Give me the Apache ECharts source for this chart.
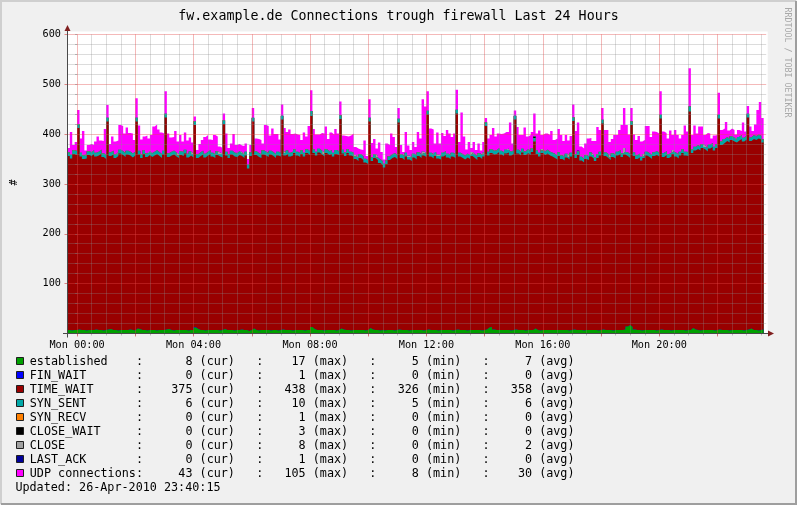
<!DOCTYPE html>
<html><head><meta charset="utf-8">
<script src="https://cdn.jsdelivr.net/npm/echarts@6/dist/echarts.min.js"></script>
<style>html,body{margin:0;padding:0;background:#f0f0f0}#c{width:797px;height:505px}</style>
</head><body><div id="c"></div>
<script>
// ---- time base: 5-minute buckets, minutes relative to Mon 00:00 ----
const startMinute = -20;
const stepMinutes = 5;

// ---- series values (grouped per hour: Sun 23:40-23:55, Mon 00..22, Mon 23:00-23:30) ----
const established = [
 [7,6,7,7],
 [8,7,7,6,7,7,7,8,7,7,6,7],[8,9,7,7,6,7,7,7,7,8,7,6],[10,9,7,7,6,7,7,7,6,7,7,7],[8,9,7,6,7,7,7,7,7,6,7,7],
 [12,9,7,7,6,7,7,7,7,7,6,7],[9,7,7,7,6,7,7,8,7,7,5,7],[10,7,6,7,7,7,7,6,7,7,6,7],[8,7,7,7,6,7,7,7,7,6,7,7],
 [13,9,7,7,7,6,7,7,7,7,6,7],[10,8,7,7,6,7,7,7,7,7,6,7],[11,8,7,7,6,7,6,7,7,7,6,7],[8,7,7,7,6,7,7,7,7,7,6,7],
 [8,7,7,7,6,7,7,7,7,7,6,7],[8,7,7,7,6,7,7,7,7,7,6,7],[8,12,13,8,7,7,7,7,7,7,6,7],[8,7,7,7,6,7,7,7,10,7,6,7],
 [7,7,7,7,7,7,7,7,7,7,6,7],[8,7,7,7,6,7,7,7,7,7,6,7],[8,7,7,7,6,7,7,7,7,8,14,17],[13,8,7,7,6,7,7,7,7,7,6,7],
 [8,7,7,7,6,7,7,7,7,7,6,7],[7,11,8,7,6,7,7,7,7,7,6,7],[8,7,7,7,6,7,7,7,7,7,6,7],
 [8,10,7,7,6,7,8]
].flat();

const finWait = [
 [0,0,0,0],
 [0,0,0,0,0,0,0,0,0,0,0,0],[0,0,0,0,0,0,0,0,0,0,0,0],[0,0,0,0,0,0,0,0,0,0,0,0],[0,0,0,0,0,0,0,0,0,0,0,0],
 [1,0,0,0,0,0,0,0,0,0,0,0],[0,0,0,0,0,0,0,0,0,0,0,0],[0,0,0,0,0,0,0,0,0,0,0,0],[0,0,0,0,0,0,0,0,0,0,0,0],
 [0,0,0,0,0,0,0,0,0,0,0,0],[0,0,0,0,0,0,0,0,0,0,0,0],[0,0,0,0,0,0,0,0,0,0,0,0],[0,0,0,0,0,0,0,0,0,0,0,0],
 [0,0,0,0,0,0,0,0,0,0,0,0],[0,0,0,0,0,0,0,0,0,0,0,0],[0,0,0,0,0,0,0,0,0,0,0,0],[0,0,0,0,0,0,0,0,0,0,0,0],
 [0,0,0,0,0,0,0,0,0,0,0,0],[0,0,0,0,0,0,0,0,0,0,0,0],[0,0,0,0,0,0,0,0,0,0,0,0],[0,0,0,0,0,0,0,0,0,0,0,0],
 [0,0,0,0,0,0,0,0,0,0,0,0],[0,0,0,0,0,0,0,0,0,0,0,0],[0,0,0,0,0,0,0,0,0,0,0,0],
 [0,0,0,0,0,0,0]
].flat();

const timeWait = [
 [349,345,353,351],
 [404,348,343,345,351,349,353,347,350,354,348,343],[417,347,352,345,350,354,351,347,352,349,346,351],
 [415,350,345,353,348,351,347,350,354,349,345,352],[425,345,350,353,348,345,351,349,354,347,350,346],
 [405,343,349,352,347,350,353,348,345,351,349,346],[411,350,345,352,349,347,351,348,345,350,326,349],
 [415,351,348,345,352,350,347,353,349,345,351,348],[421,350,353,348,351,355,350,347,353,349,355,351],
 [423,353,350,356,352,349,355,351,353,348,354,351],[420,353,349,355,351,348,343,339,345,341,337,333],
 [414,338,345,341,336,331,327,333,341,345,348,343],[415,345,341,348,343,339,346,342,349,345,351,347],
 [431,348,344,349,345,342,348,351,346,343,349,345],[433,348,345,342,347,343,349,345,341,347,344,348],
 [408,345,349,351,353,357,352,349,354,356,351,353],[421,354,350,356,352,355,351,357,375,353,349,355],
 [351,354,350,348,345,342,349,343,340,346,343,348],[418,345,351,340,337,343,341,348,344,339,346,350],
 [413,349,345,341,348,344,350,353,347,351,342,335],[405,348,343,346,341,345,350,347,343,349,352,348],
 [423,347,351,345,349,353,348,344,350,355,351,349],[438,351,359,363,361,365,362,358,364,367,361,365],
 [423,371,375,379,377,381,378,376,380,383,379,382],
 [425,376,383,381,385,382,375]
].flat();

const synSent = [
 [7,7,7,8],
 [7,7,7,5,7,7,7,7,7,7,7,7],[7,7,7,7,5,7,7,7,7,7,8,7],[7,7,7,7,7,5,7,7,7,7,7,7],[7,7,7,7,7,5,7,7,7,7,8,7],
 [7,7,7,7,7,7,7,7,7,7,5,7],[7,7,7,7,7,7,7,5,7,7,7,7],[7,7,7,7,8,7,7,7,7,7,7,7],[7,5,7,7,7,7,7,7,7,7,7,7],
 [10,7,7,7,7,5,7,7,7,7,8,7],[7,7,7,7,7,7,5,7,7,7,7,7],[7,7,7,5,7,7,7,7,7,7,7,8],[7,7,7,7,5,7,7,7,7,7,5,7],
 [7,7,7,7,5,7,7,7,7,7,7,7],[7,7,7,7,7,7,5,7,7,7,8,7],[7,7,7,7,7,7,7,7,7,5,7,7],[7,7,7,7,7,7,7,7,7,7,7,5],
 [7,7,7,7,8,7,7,7,7,7,5,7],[7,7,7,7,7,7,7,8,7,7,7,7],[7,7,7,5,7,7,7,7,7,5,7,7],[7,7,7,7,7,5,7,7,7,7,7,7],
 [7,8,7,7,7,5,7,7,7,7,7,7],[10,7,7,7,7,7,5,7,7,7,7,7],[7,7,8,7,7,7,7,5,7,7,7,7],
 [7,7,7,7,7,7,6]
].flat();

const synRecv = [
 [0,0,0,0],
 [0,0,0,0,0,0,0,0,0,0,0,0],[0,0,0,0,0,0,0,0,0,0,0,0],[0,0,0,0,0,0,0,0,0,0,0,0],[0,0,0,0,0,0,0,0,0,0,0,0],
 [0,0,0,0,0,0,0,0,0,0,0,0],[0,0,0,0,0,0,0,0,0,0,0,0],[0,0,0,0,0,0,0,0,0,0,0,0],[0,0,0,0,0,0,0,0,0,0,0,0],
 [0,0,0,0,0,0,0,0,0,0,0,0],[0,0,0,0,0,0,0,0,0,0,0,0],[0,0,0,0,0,0,0,0,0,0,0,0],[0,0,0,0,0,0,0,0,0,0,0,0],
 [0,0,1,0,0,0,0,0,0,0,0,0],[0,0,0,0,0,0,0,0,0,0,0,0],[0,0,0,0,0,0,0,0,0,0,0,0],[0,0,0,0,0,0,0,0,0,0,0,0],
 [0,0,0,0,0,0,0,0,0,0,0,0],[0,0,0,0,0,0,0,0,0,0,0,0],[0,0,0,0,0,0,0,0,0,0,0,0],[0,0,0,0,0,0,0,0,0,0,0,0],
 [0,0,0,0,0,0,0,0,0,0,0,0],[0,0,0,0,0,0,0,0,0,0,0,0],[0,0,0,0,0,0,0,0,0,0,0,0],
 [0,0,0,0,0,0,0]
].flat();

const closeWait = [
 [0,0,0,0],
 [0,0,0,0,0,0,0,0,0,0,0,0],[0,0,0,0,0,0,0,0,0,0,0,0],[0,0,0,0,0,0,0,0,0,0,0,0],[0,0,0,0,0,0,0,0,0,0,0,0],
 [0,0,0,0,0,0,0,0,0,0,0,0],[0,0,0,0,0,0,0,0,0,0,0,0],[0,0,0,0,0,0,0,0,0,0,0,0],[0,0,0,0,0,0,0,0,0,0,0,0],
 [0,0,0,0,0,0,0,0,0,0,0,0],[0,0,0,0,0,0,0,0,0,0,0,0],[0,0,0,0,0,0,0,0,0,0,0,0],[0,0,0,0,0,0,0,0,0,0,0,0],
 [0,0,0,0,0,0,0,0,0,0,0,0],[0,0,0,0,0,0,0,0,0,0,0,0],[0,0,0,0,0,0,0,0,0,0,0,0],[0,0,0,0,0,0,0,0,3,0,0,0],
 [0,0,0,0,0,0,0,0,0,0,0,0],[0,0,0,0,0,0,0,0,0,0,0,0],[0,0,0,0,0,0,0,0,0,0,0,0],[0,0,0,0,0,0,0,0,0,0,0,0],
 [0,0,0,0,0,0,0,0,0,0,0,0],[0,0,0,0,0,0,0,0,0,0,0,0],[0,0,0,0,0,0,0,0,0,0,0,0],
 [0,0,0,0,0,0,0]
].flat();

const closeState = [
 [1,1,1,0],
 [1,1,1,3,1,1,1,1,1,1,1,1],[1,1,1,1,3,1,1,1,1,1,0,1],[1,1,1,1,1,3,1,1,1,1,1,1],[1,1,1,1,1,3,1,1,1,1,0,1],
 [1,1,1,1,1,1,1,1,1,1,3,1],[1,1,1,1,1,1,1,3,1,1,1,1],[1,1,1,1,0,1,1,1,1,1,1,1],[1,3,1,1,1,1,1,1,1,1,1,1],
 [0,1,1,1,1,3,1,1,1,1,0,1],[1,1,1,1,1,1,3,1,1,1,1,1],[1,1,1,3,1,1,1,1,1,1,1,0],[1,1,1,1,3,1,1,1,1,1,3,1],
 [1,1,1,1,3,1,1,1,1,1,1,1],[1,1,1,1,1,1,3,1,1,1,0,1],[1,1,1,1,1,1,1,1,1,3,1,1],[1,1,1,1,1,1,1,1,1,1,1,3],
 [1,1,1,1,0,1,1,1,1,1,3,1],[1,1,1,1,1,1,1,0,1,1,1,1],[1,1,1,3,1,1,1,1,1,8,1,1],[1,1,1,1,1,3,1,1,1,1,1,1],
 [1,0,1,1,1,3,1,1,1,1,1,1],[0,1,1,1,1,1,3,1,1,1,1,1],[1,1,0,1,1,1,1,3,1,1,1,1],
 [1,1,1,1,1,1,0]
].flat();

const lastAck = [
 [0,0,0,0],
 [0,0,0,0,0,0,0,0,0,0,0,0],[0,0,0,0,0,0,0,0,0,0,0,0],[0,0,0,0,0,0,0,0,0,0,0,0],[0,0,0,0,0,0,0,0,0,0,0,0],
 [0,0,0,0,0,0,0,0,0,0,0,0],[0,0,0,0,0,0,0,0,0,0,0,0],[0,0,0,0,0,0,0,0,0,0,0,0],[0,0,0,0,0,0,0,0,0,0,0,0],
 [0,0,0,0,0,0,0,0,0,0,0,0],[0,0,0,0,0,0,0,0,0,0,0,0],[0,0,0,0,0,0,0,0,0,0,0,0],[0,0,0,0,0,0,0,0,0,0,0,0],
 [0,0,0,0,0,0,0,0,0,0,0,0],[0,0,0,0,0,0,0,0,0,0,0,0],[0,0,0,0,0,0,0,0,0,0,0,0],[0,0,0,0,0,0,0,0,0,0,0,0],
 [0,0,0,0,0,0,0,0,0,0,0,0],[0,0,1,0,0,0,0,0,0,0,0,0],[0,0,0,0,0,0,0,0,0,0,0,0],[0,0,0,0,0,0,0,0,0,0,0,0],
 [0,0,0,0,0,0,0,0,0,0,0,0],[0,0,0,0,0,0,0,0,0,0,0,0],[0,0,0,0,0,0,0,0,0,0,0,0],
 [0,0,0,0,0,0,0]
].flat();

const udp = [
 [8,45,10,18],
 [28,28,48,8,12,16,10,22,30,18,24,52],[25,16,28,25,23,49,50,39,46,37,40,23],[39,50,29,27,35,25,36,50,51,45,43,34],
 [45,39,28,27,43,25,32,21,34,26,28,22],[9,8,16,21,33,33,21,25,38,29,12,11],[13,36,12,14,37,16,14,13,16,16,11,14],
 [19,25,28,28,14,53,54,30,47,40,35,26],[22,47,36,46,35,31,34,36,20,40,25,50],[42,40,34,28,35,38,45,24,35,36,42,35],
 [27,28,32,25,32,38,16,17,9,12,36,8],[37,28,30,15,33,18,8,33,22,41,32,16],[21,18,8,41,20,14,23,17,40,31,105,93],
 [39,48,49,17,44,24,39,30,47,43,31,41],[40,21,83,38,8,26,8,24,12,19,9,21],[8,26,28,45,27,29,33,37,35,33,58,13],
 [10,45,33,27,47,25,32,32,45,33,44,28],[35,32,33,43,28,34,46,40,31,37,30,33],[25,46,56,20,20,23,35,29,27,32,54,43],
 [23,44,48,28,28,39,33,40,56,80,54,39],[26,35,30,35,30,28,51,54,36,41,38,38],[47,43,36,31,44,30,45,39,26,28,52,41],
 [77,28,42,23,40,35,21,29,22,9,22,18],[44,22,21,30,16,15,15,8,13,8,30,8],
 [15,21,8,23,49,67,43]
].flat();

// ---- legend names, colours, statistics ----
const legendNames = ['established','FIN_WAIT','TIME_WAIT','SYN_SENT','SYN_RECV','CLOSE_WAIT','CLOSE','LAST_ACK','UDP connections'];
const legendColors = ['#00A000','#0000FF','#990000','#00A8A8','#FF8000','#000000','#A0A0A0','#000099','#FF00FF'];
const statCur = [8,0,375,6,0,0,0,0,43];
const statMax = [17,1,438,10,1,3,8,1,105];
const statMin = [5,0,326,5,0,0,0,0,8];
const statAvg = [7,0,358,6,0,0,2,0,30];
const updatedText = 'Updated: 26-Apr-2010 23:40:15';
const titleText = 'fw.example.de Connections trough firewall Last 24 Hours';
const xTickLabels = ['Mon 00:00','Mon 04:00','Mon 08:00','Mon 12:00','Mon 16:00','Mon 20:00'];
const yTickLabels = ['100','200','300','400','500','600'];

const seriesValues = [established, finWait, timeWait, synSent, synRecv, closeWait, closeState, lastAck, udp];

// ---- layout ----
const FONT = 'DejaVu Sans Mono';
const plotLeft = 67.5, plotRight = 766.2, plotTop = 34.3, plotBottom = 333.5;
const axisMin = -19.75, axisMax = 1420.25;
const pxPerMin = (plotRight - plotLeft) / (axisMax - axisMin);
const gridLastMin = 1410, majorLastMin = 1320;
const MINOR = 'rgba(140,140,140,0.30)';
const MAJOR = 'rgba(225,70,70,0.38)';
const MINOR_TICK = 'rgba(120,120,120,0.45)';
const MAJOR_TICK = 'rgba(210,60,60,0.6)';

const nBuckets = timeWait.length;
const boundaries = [];
for (let i = 0; i <= nBuckets; i++) boundaries.push(String(startMinute + stepMinutes * i));
const dataLeft = plotLeft + (startMinute - axisMin) * pxPerMin;
const dataWidth = nBuckets * stepMinutes * pxPerMin;
const zeroLeft = plotLeft + (0 - axisMin) * pxPerMin;

// stacked tops (each layer drawn from 0 up to its cumulative top; upper layers painted first)
const stackedTops = [];
let running = seriesValues[0].map(() => 0);
seriesValues.forEach(vals => { running = running.map((r, i) => r + vals[i]); stackedTops.push(running); });

const chart = echarts.init(document.getElementById('c'), null, {renderer: 'canvas', width: 797, height: 505});

const series = stackedTops.map((tops, k) => {
  const data = tops.slice();
  data.push(tops[tops.length - 1]);
  return {
    name: legendNames[k], type: 'line', step: 'end',
    xAxisIndex: 0, yAxisIndex: 1, symbol: 'none', showSymbol: false,
    lineStyle: {opacity: 0, width: 0}, areaStyle: {color: legendColors[k], opacity: 1, origin: 'start'},
    data: data, silent: true, z: 2 + (8 - k) * 0.1
  };
}).reverse();

const graphics = [];
graphics.push({type: 'rect', shape: {x: 0, y: 0, width: 797, height: 505}, style: {fill: '#F0F0F0'}, z: -10, silent: true});
graphics.push({type: 'polyline', shape: {points: [[1, 504], [1, 1], [796, 1]]}, style: {stroke: '#CFCFCF', lineWidth: 2, fill: null}, z: -9, silent: true});
graphics.push({type: 'polyline', shape: {points: [[1, 504], [796, 504], [796, 1]]}, style: {stroke: '#9E9E9E', lineWidth: 2, fill: null}, z: -9, silent: true});
graphics.push({type: 'rect', shape: {x: plotLeft, y: 31.5, width: plotRight - plotLeft + 1.5, height: plotBottom - 31.5}, style: {fill: '#FFFFFF'}, z: -8, silent: true});
graphics.push({type: 'text', x: 398.5, y: 16.5, style: {text: titleText, font: '13.3px "' + FONT + '"', fill: '#000', align: 'center', verticalAlign: 'middle'}, z: 50, silent: true});
graphics.push({type: 'text', x: 787, y: 62.5, rotation: -Math.PI / 2, style: {text: 'RRDTOOL / TOBI OETIKER', font: '8.3px "' + FONT + '"', fill: '#A8A8A8', align: 'center', verticalAlign: 'middle'}, z: 50, silent: true});
graphics.push({type: 'text', x: 14, y: 182.5, rotation: Math.PI / 2, style: {text: '#', font: '10.2px "' + FONT + '"', fill: '#000', align: 'center', verticalAlign: 'middle'}, z: 50, silent: true});
graphics.push({type: 'line', shape: {x1: 67.5, y1: 337.5, x2: 67.5, y2: 29}, style: {stroke: '#4A4A4A', lineWidth: 1}, z: 60, silent: true});
graphics.push({type: 'line', shape: {x1: 63, y1: 333.5, x2: 769, y2: 333.5}, style: {stroke: '#4A4A4A', lineWidth: 1}, z: 60, silent: true});
graphics.push({type: 'polygon', shape: {points: [[67.5, 25], [64.5, 31], [70.5, 31]]}, style: {fill: '#801F1F'}, z: 61, silent: true});
graphics.push({type: 'polygon', shape: {points: [[774, 333.5], [768, 330.5], [768, 336.5]]}, style: {fill: '#801F1F'}, z: 61, silent: true});
const rowY0 = 361.5, rowStep = 14;
const LEGEND_FONT = '11.75px "' + FONT + '"';
legendNames.forEach((name, k) => {
  const y = rowY0 + k * rowStep;
  graphics.push({type: 'rect', shape: {x: 16.5, y: y - 4, width: 7, height: 7}, style: {fill: legendColors[k], stroke: '#1F1F1F', lineWidth: 1}, z: 50, silent: true});
  const line = name.padEnd(15) + ':' + String(statCur[k]).padStart(7) + ' (cur)' +
    '   :' + String(statMax[k]).padStart(6) + ' (max)' +
    '   :' + String(statMin[k]).padStart(6) + ' (min)' +
    '   :' + String(statAvg[k]).padStart(6) + ' (avg)';
  graphics.push({type: 'text', x: 29.8, y: y, style: {text: line, font: LEGEND_FONT, fill: '#000', align: 'left', verticalAlign: 'middle'}, z: 50, silent: true});
});
graphics.push({type: 'text', x: 15.4, y: rowY0 + 9 * rowStep, style: {text: updatedText, font: LEGEND_FONT, fill: '#000', align: 'left', verticalAlign: 'middle'}, z: 50, silent: true});

const option = {
  animation: false,
  backgroundColor: '#F0F0F0',
  grid: [
    {left: dataLeft, top: plotTop, width: dataWidth, height: plotBottom - plotTop, show: false},
    {left: zeroLeft, top: plotTop, width: gridLastMin * pxPerMin, height: plotBottom - plotTop, show: false},
    {left: plotLeft, top: plotTop, width: plotRight - plotLeft, height: plotBottom - plotTop, show: false},
    {left: zeroLeft, top: plotTop, width: majorLastMin * pxPerMin, height: plotBottom - plotTop, show: false}
  ],
  xAxis: [
    {type: 'category', gridIndex: 0, data: boundaries, boundaryGap: false, show: false},
    {type: 'value', gridIndex: 1, min: 0, max: gridLastMin, interval: 30, position: 'bottom', z: 10,
      axisLine: {show: false},
      axisTick: {show: true, length: 2, lineStyle: {color: MINOR_TICK}},
      axisLabel: {show: true, margin: 6.5, fontFamily: FONT, fontSize: 10.2, color: '#000',
        formatter: v => (v % 240 === 0 ? xTickLabels[v / 240] : '')},
      splitLine: {show: true, lineStyle: {width: 1, color: [MAJOR, MINOR, MINOR, MINOR]}}
    },
    {type: 'value', gridIndex: 2, min: axisMin, max: axisMax, show: false},
    {type: 'value', gridIndex: 3, min: 0, max: majorLastMin, interval: 120, position: 'bottom', z: 11,
      axisLine: {show: false}, axisLabel: {show: false}, splitLine: {show: false},
      axisTick: {show: true, length: 3, lineStyle: {color: MAJOR_TICK}}}
  ],
  yAxis: [
    {type: 'value', gridIndex: 2, min: 0, max: 600, interval: 20, position: 'left', z: 10,
      axisLine: {show: false},
      axisTick: {show: true, length: 2, lineStyle: {color: MINOR_TICK}},
      axisLabel: {show: true, margin: 6.5, fontFamily: FONT, fontSize: 10.2, color: '#000',
        formatter: v => (v > 0 && v % 100 === 0 ? yTickLabels[v / 100 - 1] : '')},
      splitLine: {show: true, lineStyle: {width: 1, color: [MAJOR, MINOR, MINOR, MINOR, MINOR]}}
    },
    {type: 'value', gridIndex: 0, min: 0, max: 600, show: false},
    {type: 'value', gridIndex: 1, min: 0, max: 600, show: false},
    {type: 'value', gridIndex: 2, min: 0, max: 600, interval: 100, position: 'left', z: 11,
      axisLine: {show: false}, axisLabel: {show: false}, splitLine: {show: false},
      axisTick: {show: true, length: 3, lineStyle: {color: MAJOR_TICK}}},
    {type: 'value', gridIndex: 3, min: 0, max: 600, show: false}
  ],
  graphic: {elements: graphics},
  series: series
};
chart.setOption(option);
</script></body></html>
